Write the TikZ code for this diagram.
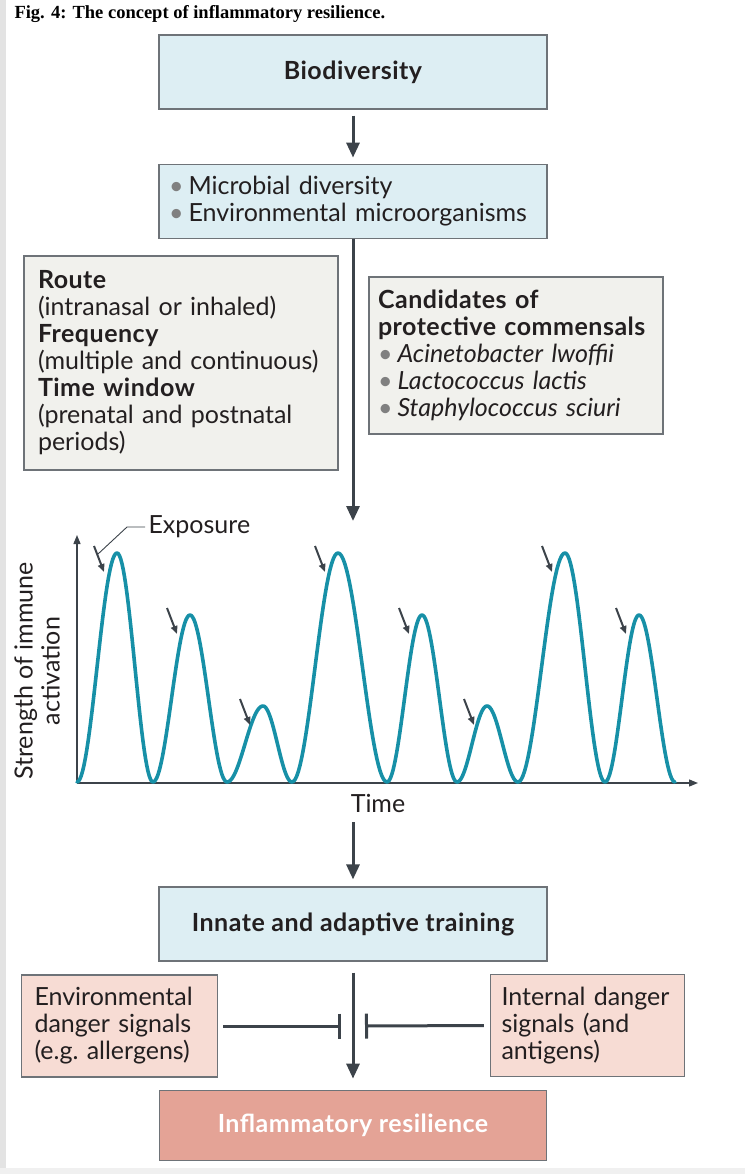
\documentclass[tikz,border=0pt]{standalone}
\usepackage{fontspec}
\setmainfont{Lato}[BoldFeatures={LetterSpace=2}]
\newfontfamily\titlefont{Liberation Serif}
\usepackage{tikz}
\usetikzlibrary{arrows.meta,positioning}
\usepackage{xcolor}
\definecolor{boxblue}{HTML}{DDEEF3}
\definecolor{boxgrey}{HTML}{F1F1ED}
\definecolor{boxpink}{HTML}{F7DCD4}
\definecolor{boxred}{HTML}{E4A396}
\definecolor{edgegrey}{HTML}{6E7378}
\definecolor{darkarrow}{HTML}{3C434A}
\definecolor{curveteal}{HTML}{1790A7}
\definecolor{inktext}{HTML}{231F20}
\newcommand{\bul}{{\color{gray}\textbullet}\hspace{5pt}}

\begin{document}
\begin{tikzpicture}[x=1pt,y=-1pt,>={Triangle[length=15pt,width=13pt]},
                    font=\fontsize{25}{27}\selectfont,text=inktext]
  \tikzstyle{box}=[rectangle,draw=edgegrey,line width=1.2pt,fill=boxblue,minimum width=388pt,minimum height=74pt]
  \tikzstyle{heading}=[font=\fontsize{25}{27}\selectfont\bfseries]
  \tikzstyle{grey box}=[rectangle,draw=edgegrey,line width=1.2pt,fill=boxgrey,align=left]
  \tikzstyle{pink box}=[rectangle,draw=edgegrey,line width=1.2pt,fill=boxpink,align=left,inner xsep=13pt,minimum height=102pt]
  \tikzstyle{red box}=[rectangle,draw=edgegrey,line width=1.2pt,fill=boxred,minimum width=387pt,minimum height=70pt]
  \tikzstyle{arrow}=[->,draw=darkarrow,line width=3pt]
  \tikzstyle{inhibit}=[-{Bar[width=25pt]},draw=darkarrow,line width=3pt]
  \tikzstyle{axis}=[-{Triangle[length=9pt,width=7pt]},draw=darkarrow,line width=1.3pt]
  \tikzstyle{curve}=[draw=curveteal,line width=3.6pt,line cap=round,line join=round]
  \tikzstyle{expo}=[-{Triangle[length=8pt,width=6.5pt]},draw=darkarrow,line width=2pt]

  \useasboundingbox (0,0) rectangle (745,1174);
  \fill[gray!22] (0,0) rectangle (6,1174);
  \fill[gray!12] (0,1168) rectangle (745,1174);

  \node[anchor=base west,font=\titlefont\bfseries\fontsize{18.5}{21}\selectfont,text=black] (title) at (11,19)
    {Fig. 4: The concept of inflammatory resilience.};

  \node[box,heading] (bio) at (353,72) {Biodiversity};
  \node[box,below=54pt of bio,align=left,text width=368pt,inner xsep=10pt] (micro)
    {\bul Microbial diversity\\ \bul Environmental microorganisms};

  \node[grey box,minimum width=314pt,minimum height=214pt,text width=286pt,inner xsep=14pt] (route) at (181,363)
    {\textbf{Route}\\ (intranasal or inhaled)\\ \textbf{Frequency}\\ (multiple and continuous)\\
     \textbf{Time window}\\ (prenatal and postnatal\\ periods)};
  \node[grey box,minimum width=294pt,minimum height=157pt,text width=276pt,inner xsep=9pt] (cand) at (516,355.5)
    {\textbf{Candidates of}\\ \textbf{protective commensals}\\ \bul\textit{Acinetobacter lwoffii}\\
     \bul\textit{Lactococcus lactis}\\ \bul\textit{Staphylococcus sciuri}};

  \coordinate (plottop) at (353,521);
  \coordinate (orig) at (77,783);
  \coordinate (ytop) at (77,535);
  \coordinate (xend) at (698,783);
  \coordinate (timeend) at (353,822);
  \coordinate (expotip) at (98,554);
  \coordinate (lbar) at (341,1026);
  \coordinate (rbar) at (365,1026);

  \draw[axis] (orig) -- (ytop);
  \draw[axis] (orig) -- (xend);
  \foreach \a/\p/\b/\h in {77/117/153/229, 153/190/227/167, 227/263/292/76, 292/338/387/229,
                           387/422/457/167, 457/487/518/76, 518/565/605/229, 605/639/675/167}
  {
    \draw[curve] plot[domain=\a:\p,samples=30] (\x,{782-\h*(1-cos(180*(\x-\a)/(\p-\a)))/2})
                 -- plot[domain=\p:\b,samples=30] (\x,{782-\h*(1+cos(180*(\x-\p)/(\b-\p)))/2});
    \draw[expo] ({\p-23},{775-\h}) -- ({\p-13},{801-\h});
  }
  \node[anchor=west] (expolabel) at (145,527) {Exposure};
  \draw[darkarrow,line width=0.9pt] (expolabel.west) -- ++(-18,0) -- (expotip);
  \node[rotate=90,align=center] (ylabel) at (37,671) {Strength of immune\\ activation};
  \node (time) at (378,803) {Time};

  \node[box,heading] (innate) at (353,924) {Innate and adaptive training};
  \node[pink box,text width=170pt] (env) at (119.5,1026) {Environmental\\ danger signals\\ (e.g.\ allergens)};
  \node[pink box,text width=172pt,inner xsep=11pt] (internal) at (587.5,1025.5) {Internal danger\\ signals (and\\ antigens)};
  \node[red box,below=128pt of innate,heading,text=white] (inflam)
    {Inflammatory resilience};

  \draw[arrow,shorten <=6pt,shorten >=6pt] (bio) -- (micro);
  \draw[arrow] (micro) -- (plottop);
  \draw[arrow,shorten >=7pt] (timeend) -- (innate);
  \draw[arrow,shorten <=11pt,shorten >=11pt] (innate) -- (inflam);
  \draw[inhibit] ([xshift=5pt]env.east) -- (lbar);
  \draw[inhibit] ([xshift=-6pt]internal.west) -- (rbar);
\end{tikzpicture}
\end{document}
